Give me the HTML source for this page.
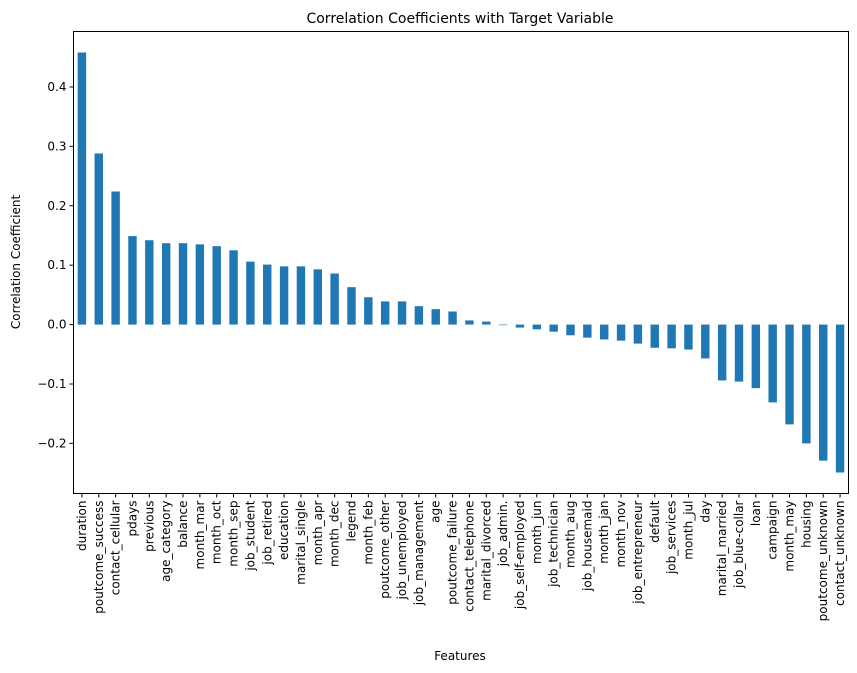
<!DOCTYPE html>
<html><head><meta charset="utf-8"><style>
body{margin:0;background:#fff;font-family:"Liberation Sans","DejaVu Sans",sans-serif}
svg{display:block}
</style></head><body>
<svg id="c" width="857" height="673" xmlns="http://www.w3.org/2000/svg" font-family="'DejaVu Sans','Liberation Sans',sans-serif">
<text x="460" y="23" text-anchor="middle" font-size="14">Correlation Coefficients with Target Variable</text>
<text x="460" y="660" text-anchor="middle" font-size="12">Features</text>
<text transform="translate(20,262) rotate(-90)" text-anchor="middle" font-size="12">Correlation Coefficient</text>
<g id="bars"></g><g id="ticks"></g>
<rect x="73.5" y="31.5" width="775" height="462" fill="none" stroke="#000" stroke-width="1"/>
</svg>
<script>
const categories=["duration","poutcome_success","contact_cellular","pdays","previous","age_category","balance","month_mar","month_oct","month_sep","job_student","job_retired","education","marital_single","month_apr","month_dec","legend","month_feb","poutcome_other","job_unemployed","job_management","age","poutcome_failure","contact_telephone","marital_divorced","job_admin.","job_self-employed","month_jun","job_technician","month_aug","job_housemaid","month_jan","month_nov","job_entrepreneur","default","job_services","month_jul","day","marital_married","job_blue-collar","loan","campaign","month_may","housing","poutcome_unknown","contact_unknown"];
const values=[0.458,0.288,0.224,0.149,0.142,0.137,0.137,0.135,0.132,0.125,0.106,0.101,0.098,0.098,0.093,0.086,0.063,0.046,0.039,0.039,0.031,0.026,0.022,0.007,0.005,-0.001,-0.005,-0.008,-0.012,-0.018,-0.022,-0.025,-0.027,-0.032,-0.039,-0.040,-0.042,-0.057,-0.094,-0.096,-0.107,-0.131,-0.168,-0.200,-0.229,-0.249];
const yTicks=[-0.2,-0.1,0.0,0.1,0.2,0.3,0.4];
const NS="http://www.w3.org/2000/svg";
const L=73.5,R=848.5,T=31.5,B=493.5;
const vmin=Math.min(...values),vmax=Math.max(...values),pad=(vmax-vmin)*0.05;
const y0=vmin-pad,y1=vmax+pad;
const y=v=>B-(v-y0)/(y1-y0)*(B-T);
const step=(R-L)/categories.length;
const x=i=>L+step*(i+0.5);
const bars=document.getElementById('bars'),ticks=document.getElementById('ticks');
function mk(t,a,p){const e=document.createElementNS(NS,t);for(const k in a)e.setAttribute(k,a[k]);p.appendChild(e);return e;}
values.forEach((v,i)=>{
 const r=mk('rect',{x:x(i)-step/4,y:Math.min(y(v),y(0)),width:step/2,height:Math.abs(y(v)-y(0)),fill:'#1f77b4'},bars);
 
 
 const tk=mk('line',{x1:x(i),x2:x(i),y1:B,y2:B+4,stroke:'#000'},ticks);
 
 
 const t=mk('text',{transform:`translate(${x(i)+4},${B+7}) rotate(-90)`,'text-anchor':'end','font-size':'12'},ticks);
 t.textContent=categories[i];
 
 
});
yTicks.forEach(v=>{
 const tk=mk('line',{x1:L-4,x2:L,y1:y(v),y2:y(v),stroke:'#000'},ticks);
 
 
 const t=mk('text',{x:L-7,y:y(v)+4,'text-anchor':'end','font-size':'12'},ticks);
 t.textContent=(v<0?'\u2212':'')+Math.abs(v).toFixed(1);
 
 
});
</script>
</body></html>
